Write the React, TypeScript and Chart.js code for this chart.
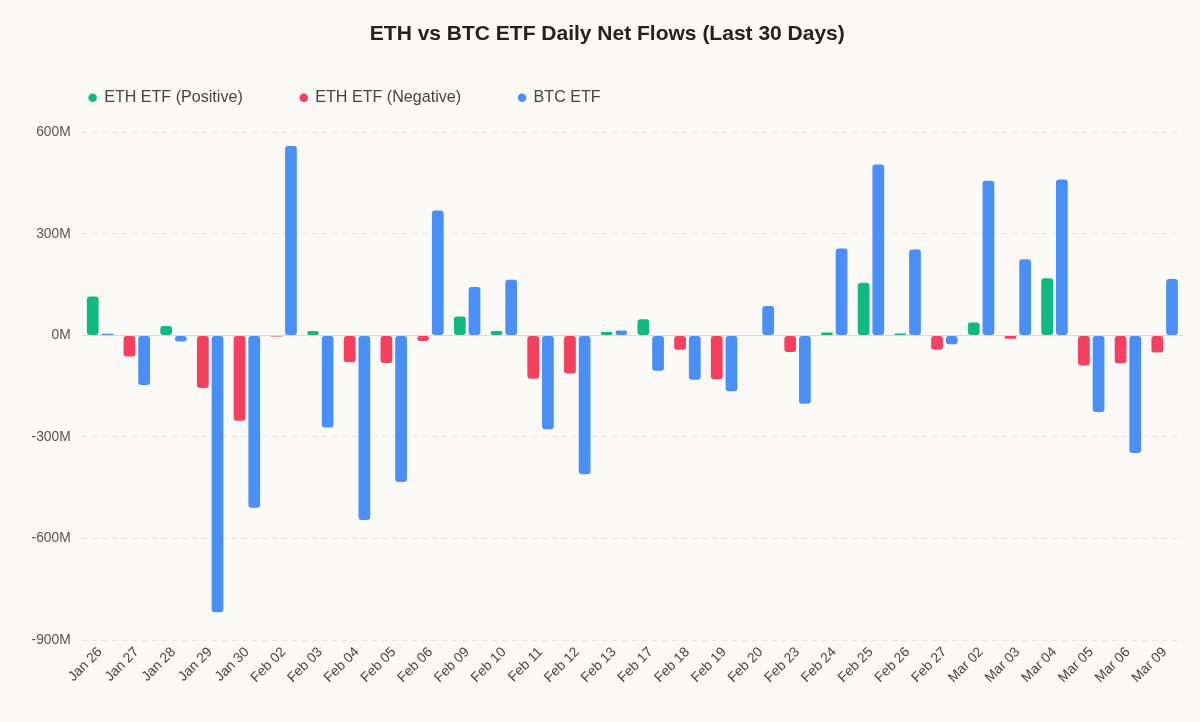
import React, { useEffect, useRef } from 'react';
import { Chart, registerables } from 'chart.js';

Chart.register(...registerables);

const labels = [
  'Jan 26', 'Jan 27', 'Jan 28', 'Jan 29', 'Jan 30',
  'Feb 02', 'Feb 03', 'Feb 04', 'Feb 05', 'Feb 06',
  'Feb 09', 'Feb 10', 'Feb 11', 'Feb 12', 'Feb 13',
  'Feb 17', 'Feb 18', 'Feb 19', 'Feb 20', 'Feb 23',
  'Feb 24', 'Feb 25', 'Feb 26', 'Feb 27', 'Mar 02',
  'Mar 03', 'Mar 04', 'Mar 05', 'Mar 06', 'Mar 09',
];

// ETH ETF daily net flow, millions USD
const ethFlows = [
  115, -62, 28, -155, -252,
  -3, 13, -79, -81, -16,
  56, 13, -128, -112, 10,
  48, -42, -129, 0, -49,
  9, 156, 6, -42, 38,
  -10, 169, -89, -82, -50,
];

// BTC ETF daily net flow, millions USD
const btcFlows = [
  5, -146, -18, -818, -509,
  560, -272, -545, -433, 369,
  143, 165, -277, -410, 15,
  -104, -131, -165, 87, -202,
  257, 505, 254, -26, 457,
  225, 461, -226, -347, 167,
];

const yMin = -900;
const yMax = 600;
const yStep = 300;

const seriesNames = ['ETH ETF (Positive)', 'ETH ETF (Negative)', 'BTC ETF'];
const titleText = 'ETH vs BTC ETF Daily Net Flows (Last 30 Days)';

const GREEN = '#10b981';
const RED = '#f43f5e';
const BLUE = '#4a8ff5';
const BG = '#faf9f6';
const FONT = "'Liberation Sans', Arial, Helvetica, sans-serif";

export default function App() {
  const canvasRef = useRef<HTMLCanvasElement | null>(null);

  useEffect(() => {
    document.body.style.background = BG;
    const canvas = canvasRef.current;
    if (!canvas) return;

    const ethPos = ethFlows.map((v) => (v > 0 ? v : null));
    const ethNeg = ethFlows.map((v) => (v < 0 ? v : null));

    const legendSpacing = {
      id: 'legendSpacing',
      beforeInit(chart: any) {
        const legend = chart.legend;
        if (!legend) return;
        const origFit = legend.fit;
        legend.fit = function fit() {
          origFit.call(this);
          this.height += 16.6;
        };
      },
    };

    const barCommon = {
      borderRadius: 3,
      borderSkipped: false as const,
      categoryPercentage: 0.8,
      barPercentage: 0.8,
    };

    const chart = new Chart(canvas, {
      type: 'bar',
      data: {
        labels,
        datasets: [
          { label: seriesNames[0], data: ethPos, backgroundColor: GREEN, stack: 'eth', ...barCommon },
          { label: seriesNames[1], data: ethNeg, backgroundColor: RED, stack: 'eth', ...barCommon },
          { label: seriesNames[2], data: btcFlows, backgroundColor: BLUE, stack: 'btc', ...barCommon },
        ],
      },
      options: {
        animation: false,
        responsive: true,
        maintainAspectRatio: false,
        layout: { padding: { left: 23.6, right: 9, top: 0, bottom: 23.9 } },
        plugins: {
          title: {
            display: true,
            text: titleText,
            color: '#222222',
            font: { family: FONT, size: 21, weight: 'bold' },
            padding: { top: 13.4, bottom: -14.35 },
          },
          legend: {
            display: true,
            position: 'top',
            align: 'start',
            labels: {
              usePointStyle: true,
              pointStyle: 'circle',
              boxWidth: 7,
              boxHeight: 6,
              padding: 57.5,
              color: '#444444',
              font: { family: FONT, size: 16.1 },
            },
          },
          tooltip: { enabled: false },
        },
        scales: {
          x: {
            grid: { display: false, drawTicks: false },
            border: { display: false },
            ticks: {
              color: '#444444',
              font: { family: FONT, size: 13.8 },
              minRotation: 45,
              maxRotation: 45,
              autoSkip: false,
              padding: 4,
            },
          },
          y: {
            stacked: true,
            min: yMin,
            max: yMax,
            grid: {
              drawTicks: true,
              tickLength: 11,
              tickColor: 'rgba(0,0,0,0)',
              color: (ctx: any) => (ctx.tick && ctx.tick.value === 0 ? 'rgba(0,0,0,0.12)' : 'rgba(0,0,0,0.08)'),
            },
            border: {
              display: false,
              dash: (ctx: any) => (ctx.tick && ctx.tick.value === 0 ? [] : [5, 5]),
            },
            ticks: {
              stepSize: yStep,
              padding: 0,
              color: '#555555',
              font: { family: FONT, size: 13.8 },
              callback: (value: any) => `${value}M`,
            },
          },
        },
      },
      plugins: [legendSpacing],
    } as any);

    return () => {
      chart.destroy();
    };
  }, []);

  return (
    <div style={{ position: 'relative', width: '100%', height: '706px', background: BG }}>
      <canvas ref={canvasRef} />
    </div>
  );
}
